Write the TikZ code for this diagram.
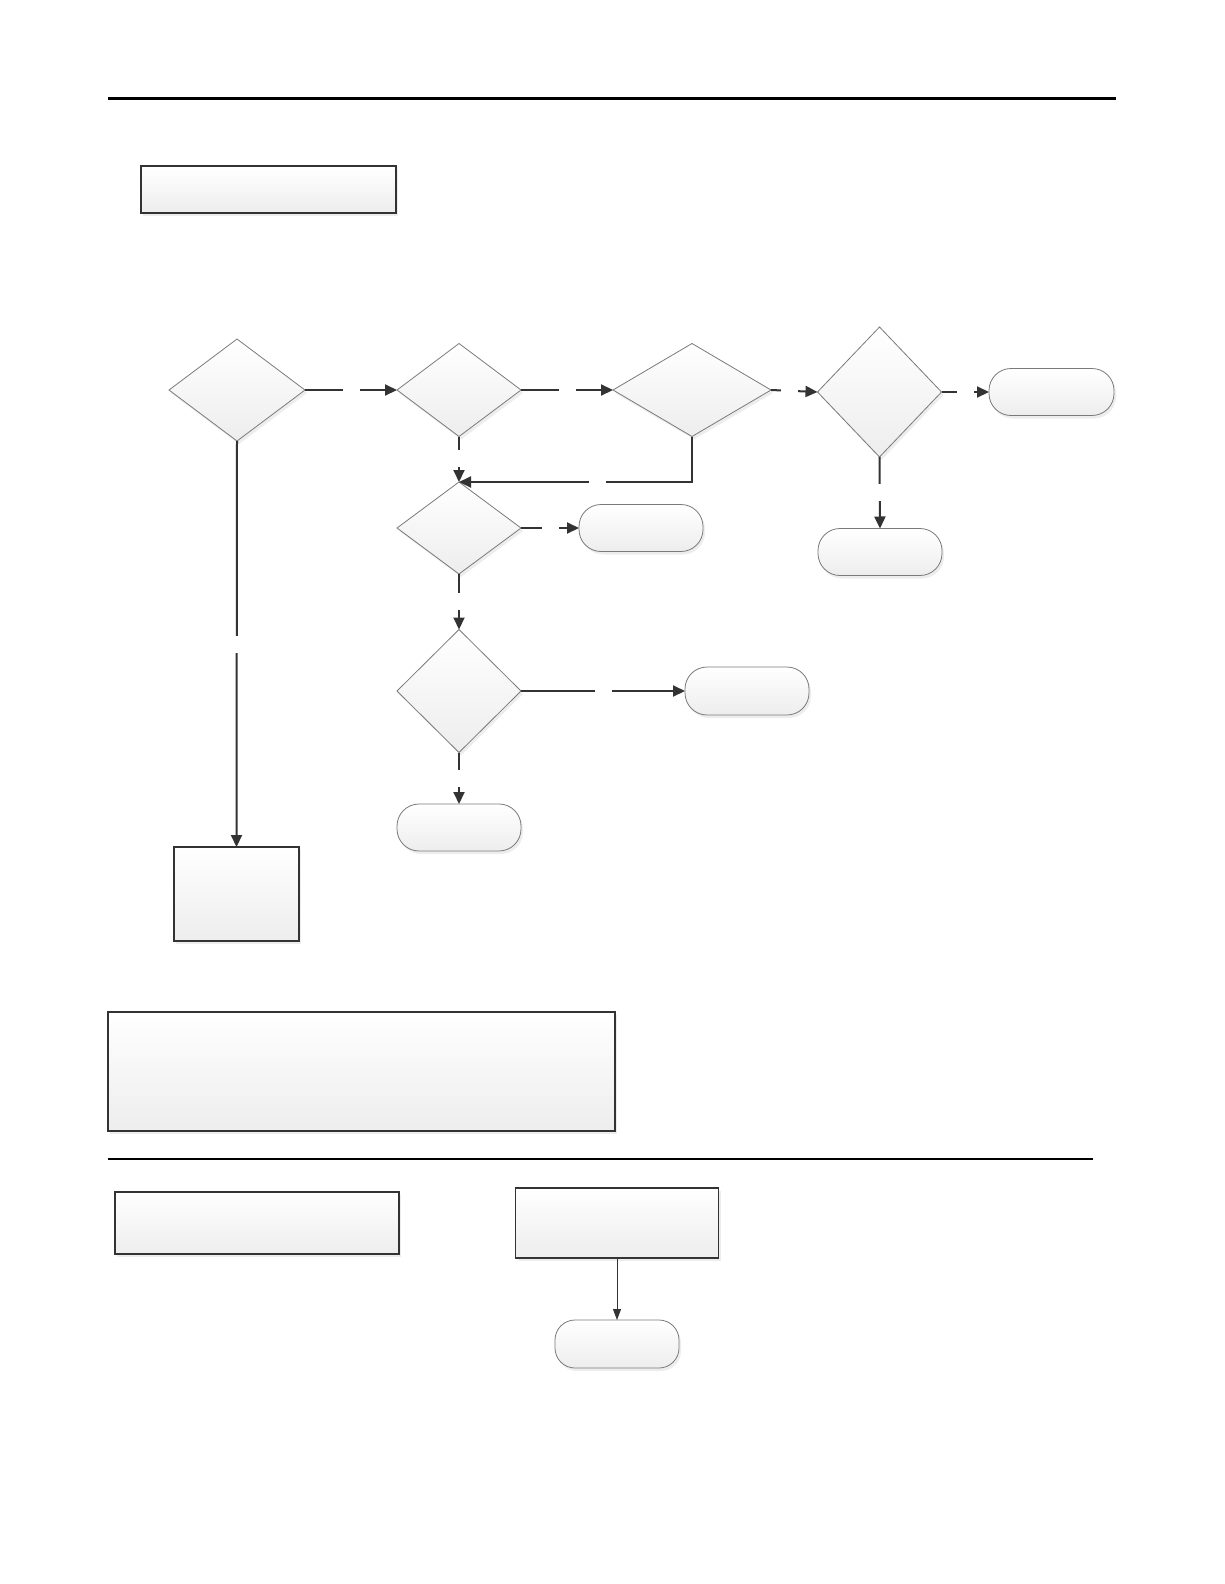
\documentclass[tikz,border=0pt]{standalone}
\usetikzlibrary{shapes.geometric,arrows.meta,shadows}
\definecolor{lc}{HTML}{333333}
\definecolor{bc}{HTML}{7A7A7A}
\tikzset{
  base/.style={inner sep=0pt, outer sep=0pt, top color=white, bottom color=black!7,
    drop shadow={shadow xshift=2pt, shadow yshift=-3pt, opacity=0.07, fill=black}},
  dia/.style={base, diamond, draw=bc, line width=0.8pt},
  term/.style={base, rectangle, rounded corners=22pt, draw=bc, line width=0.8pt},
  box/.style={base, rectangle, draw=lc, line width=1.3pt},
  conn/.style={draw=lc, line width=2pt, -{Triangle[length=12pt,width=11pt]}},
  thin/.style={draw=lc, line width=0.9pt, -{Triangle[length=11pt,width=8pt]}},
  gapn/.style={fill=white, draw=none, inner sep=0pt, minimum width=17pt, minimum height=17pt, shape=rectangle}
}
\begin{document}
\begin{tikzpicture}[x=1pt,y=-1pt]
\useasboundingbox (0,0) rectangle (1224,1584);
\fill[white] (0,0) rectangle (1224,1584);
% rules
\draw[line width=3pt, black] (108,99) -- (1116,99);
\draw[line width=1.5pt, black] (108,1159) -- (1093,1159);
% boxes
\node[box, minimum width=255pt, minimum height=47pt] (b1) at (268.5,189.5) {};
\node[box, minimum width=125pt, minimum height=94pt] (L) at (236.5,894) {};
\node[box, minimum width=507pt, minimum height=119pt] (M) at (361.5,1071.5) {};
\node[box, minimum width=284pt, minimum height=62pt] (N) at (257,1223) {};
\node[box, minimum width=203pt, minimum height=70pt] (O) at (617,1223) {};
% diamonds
\node[dia, minimum width=136pt, minimum height=102pt] (A) at (237,390) {};
\node[dia, minimum width=124pt, minimum height=93pt] (B) at (459,390) {};
\node[dia, minimum width=158pt, minimum height=93pt] (C) at (692,390) {};
\node[dia, minimum width=124pt, minimum height=130pt] (D) at (879.5,392) {};
\node[dia, minimum width=124pt, minimum height=92pt] (F) at (459,528) {};
\node[dia, minimum width=124pt, minimum height=123pt] (I) at (459,691) {};
% terminals
\node[term, minimum width=125pt, minimum height=47pt] (E) at (1051.5,392) {};
\node[term, minimum width=124pt, minimum height=47pt] (G) at (641,528) {};
\node[term, minimum width=124pt, minimum height=47pt] (H) at (880,552) {};
\node[term, minimum width=124pt, minimum height=48pt] (J) at (747,691) {};
\node[term, minimum width=124pt, minimum height=47pt] (K) at (459,827.5) {};
\node[term, minimum width=124pt, minimum height=48pt, rounded corners=20pt] (P) at (617,1344) {};
% connectors
\draw[conn] (A.east) -- node[gapn, pos=0.5] {} (B.west);
\draw[conn] (B.east) -- node[gapn, pos=0.5] {} (C.west);
\draw[conn] (C.east) -- node[gapn, pos=0.4] {} (D.west);
\draw[conn] (D.east) -- node[gapn, pos=0.5] {} (E.west);
\draw[conn] (D.south) -- node[gapn, pos=0.5] {} (H.north);
\draw[conn] (B.south) -- node[gapn, pos=0.49] {} (F.north);
\draw[conn] (C.south) -- (C.south |- F.north) -- node[gapn, pos=0.405] {} (F.north);
\draw[conn] (F.east) -- node[gapn, pos=0.5] {} (G.west);
\draw[conn] (F.south) -- node[gapn, pos=0.5] {} (I.north);
\draw[conn] (I.east) -- node[gapn, pos=0.5] {} (J.west);
\draw[conn] (I.south) -- node[gapn, pos=0.51] {} (K.north);
\draw[conn] (A.south) -- node[gapn, pos=0.5] {} (L.north);
\draw[thin] (O.south) -- (P.north);
\end{tikzpicture}
\end{document}
